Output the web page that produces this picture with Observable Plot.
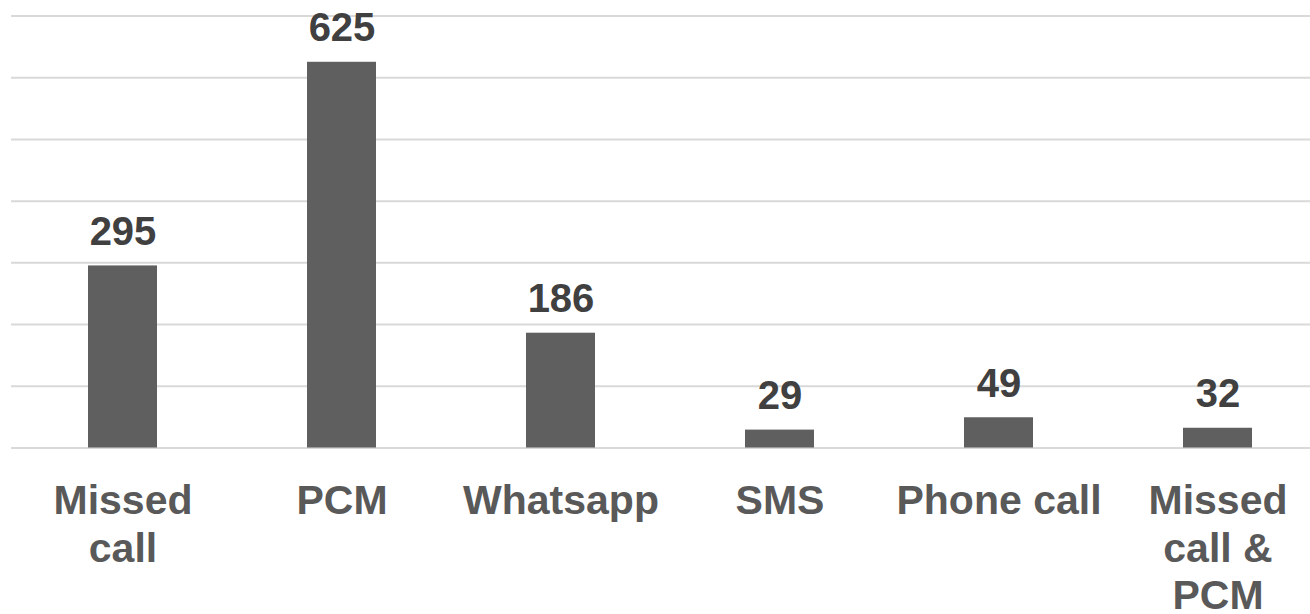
<!DOCTYPE html>
<html>
<head>
<meta charset="utf-8">
<script src="https://cdn.jsdelivr.net/npm/d3@7"></script>
<script src="https://cdn.jsdelivr.net/npm/@observablehq/plot@0.6"></script>
<style>
  html, body { margin: 0; padding: 0; background: #fff; overflow: hidden; }
  #chart svg { display: block; }
</style>
</head>
<body>
<div id="chart"></div>
<script>
const categories = ["Missed call", "PCM", "Whatsapp", "SMS", "Phone call", "Missed call & PCM"];
const tickLabels = ["Missed\ncall", "PCM", "Whatsapp", "SMS", "Phone call", "Missed\ncall &\nPCM"];
const values = [295, 625, 186, 29, 49, 32];
const gridValues = [0, 100, 200, 300, 400, 500, 600, 700];

const data = categories.map((c, i) => ({category: c, value: values[i], label: tickLabels[i]}));

const font = "'Liberation Sans', Arial, Helvetica, sans-serif";

const chart = Plot.plot({
  width: 1310,
  height: 614,
  marginLeft: 11,
  marginRight: 0,
  marginTop: 15.5,
  marginBottom: 166.5,
  style: {fontFamily: font, background: "#fff", overflow: "visible"},
  x: {domain: categories, range: [11, 1328], paddingInner: 0.686, paddingOuter: 0.343, axis: null},
  y: {domain: [0, 700], axis: null},
  marks: [
    Plot.ruleY(gridValues, {stroke: "#d9d9d9", strokeWidth: 2}),
    Plot.barY(data, {x: "category", y: "value", fill: "#5f5f5f"}),
    Plot.text(data, {
      x: "category", y: "value", text: d => String(d.value),
      lineAnchor: "bottom", dy: -21, fontSize: 40, fontWeight: "bold", fill: "#404040"
    }),
    Plot.text(data, {
      x: "category", y: () => 0, text: "label",
      lineAnchor: "top", dy: 31.5, fontSize: 41, lineHeight: 1.17, fontWeight: "bold", fill: "#595959"
    })
  ]
});
document.getElementById("chart").appendChild(chart);
</script>
</body>
</html>
